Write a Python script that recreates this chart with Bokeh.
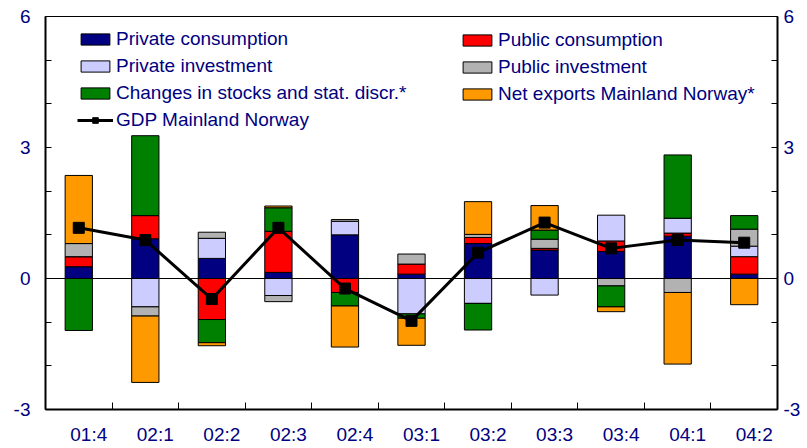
from bokeh.plotting import figure
from bokeh.models import (FixedTicker, LinearAxis, Span, Legend, LegendItem,
                          ColumnDataSource, Range1d)
from bokeh.embed import file_html
from bokeh.resources import INLINE

# ---- data ----
quarters = ["01:4", "02:1", "02:2", "02:3", "02:4", "03:1", "03:2", "03:3", "03:4", "04:1", "04:2"]
private_consumption = [0.27, 0.91, 0.46, 0.14, 1.00, 0.10, 0.80, 0.65, 0.62, 0.97, 0.10]
public_consumption = [0.23, 0.53, -0.94, 0.94, -0.32, 0.23, 0.14, 0.04, 0.24, 0.07, 0.40]
private_investment = [0.00, -0.65, 0.46, -0.39, 0.31, -0.81, -0.57, -0.38, 0.59, 0.34, 0.24]
public_investment = [0.30, -0.21, 0.14, -0.14, 0.04, 0.23, 0.07, 0.21, -0.17, -0.32, 0.39]
stocks_stat_discr = [-1.19, 1.83, -0.53, 0.54, -0.31, -0.10, -0.61, 0.21, -0.48, 1.45, 0.31]
net_exports = [1.56, -1.52, -0.07, 0.04, -0.94, -0.62, 0.75, 0.56, -0.11, -1.64, -0.60]
gdp_mainland = [1.16, 0.88, -0.47, 1.16, -0.23, -0.97, 0.59, 1.28, 0.69, 0.88, 0.82]

series_names = ["Private consumption", "Public consumption", "Private investment",
                "Public investment", "Changes in stocks and stat. discr.*",
                "Net exports Mainland Norway*"]
series_values = [private_consumption, public_consumption, private_investment,
                 public_investment, stocks_stat_discr, net_exports]
series_colors = ["#000080", "#FF0000", "#CCCCFF", "#B2B2B2", "#008000", "#FF9900"]

y_major = [-3, 0, 3, 6]
y_major_labels = ["-3", "0", "3", "6"]
y_minor = [-2, -1, 1, 2, 4, 5]

TEXT = "#000080"
FONT = "Liberation Sans"
LABEL_SHIFT = 0.15  # category labels sit slightly right of bar centres in the original

n = len(quarters)
centers = [i + 0.5 for i in range(n)]
label_pos = [c + LABEL_SHIFT for c in centers]
bounds = [float(i) for i in range(1, n)]

p = figure(width=807, height=448, x_range=Range1d(0, n), y_range=Range1d(-3, 6),
           output_backend="svg", toolbar_location=None,
           min_border_left=45, min_border_right=30, min_border_top=16, min_border_bottom=39)
p.xgrid.visible = False
p.ygrid.visible = False
p.outline_line_color = "black"
p.outline_line_width = 1
p.background_fill_color = "white"
p.border_fill_color = "white"

# stacked bars: positives upward, negatives downward, in series order
pos_base = [0.0] * n
neg_base = [0.0] * n
renderers = []
for name, vals, col in zip(series_names, series_values, series_colors):
    bottoms, tops = [], []
    for i, v in enumerate(vals):
        if v >= 0:
            bottoms.append(pos_base[i]); tops.append(pos_base[i] + v); pos_base[i] += v
        else:
            bottoms.append(neg_base[i]); tops.append(neg_base[i] + v); neg_base[i] += v
    src = ColumnDataSource(dict(x=centers, bottom=bottoms, top=tops))
    r = p.vbar(x="x", bottom="bottom", top="top", width=0.41, source=src,
               fill_color=col, line_color="black", line_width=1)
    renderers.append(r)

p.add_layout(Span(location=0, dimension="width", line_color="black", line_width=1))

gsrc = ColumnDataSource(dict(x=centers, y=gdp_mainland))
gl = p.line(x="x", y="y", source=gsrc, line_color="black", line_width=3)
gm = p.scatter(x="x", y="y", source=gsrc, marker="square", size=11,
               fill_color="black", line_color="black")

# axes
def style_axis(ax):
    ax.axis_line_color = "black"
    ax.axis_line_width = 2
    ax.major_label_text_color = TEXT
    ax.major_label_text_font = FONT
    ax.major_label_text_font_size = "19px"

xa = p.xaxis[0]
xa.ticker = FixedTicker(ticks=label_pos, minor_ticks=bounds)
xa.major_label_overrides = {c: q for c, q in zip(label_pos, quarters)}
xa.major_tick_line_color = None
xa.minor_tick_in = 7
xa.minor_tick_out = 0
xa.minor_tick_line_color = "black"
xa.major_label_standoff = 8
style_axis(xa)

def style_y(ax, standoff):
    ax.ticker = FixedTicker(ticks=y_major, minor_ticks=y_minor)
    ax.major_label_overrides = {t: s for t, s in zip(y_major, y_major_labels)}
    ax.major_tick_in = 6
    ax.major_tick_out = 0
    ax.minor_tick_in = 6
    ax.minor_tick_out = 0
    ax.major_label_standoff = standoff
    style_axis(ax)

style_y(p.yaxis[0], 15)
yr = LinearAxis()
style_y(yr, 6)
p.add_layout(yr, "right")

# legends (two columns)
def make_legend(items, loc):
    return Legend(items=items, location=loc, orientation="vertical",
                  padding=0, margin=0, spacing=5,
                  glyph_width=36, glyph_height=14, label_height=20, label_standoff=3,
                  label_text_font=FONT, label_text_font_size="19px",
                  label_text_color=TEXT, background_fill_alpha=0,
                  border_line_color=None)

left_items = [LegendItem(label=series_names[0], renderers=[renderers[0]]),
              LegendItem(label=series_names[2], renderers=[renderers[2]]),
              LegendItem(label=series_names[4], renderers=[renderers[4]]),
              LegendItem(label="GDP Mainland Norway", renderers=[gl, gm])]
right_items = [LegendItem(label=series_names[1], renderers=[renderers[1]]),
               LegendItem(label=series_names[3], renderers=[renderers[3]]),
               LegendItem(label=series_names[5], renderers=[renderers[5]])]
p.add_layout(make_legend(left_items, (32, 278)))
p.add_layout(make_legend(right_items, (414, 304)))

open("out.html", "w").write(file_html(p, INLINE))
